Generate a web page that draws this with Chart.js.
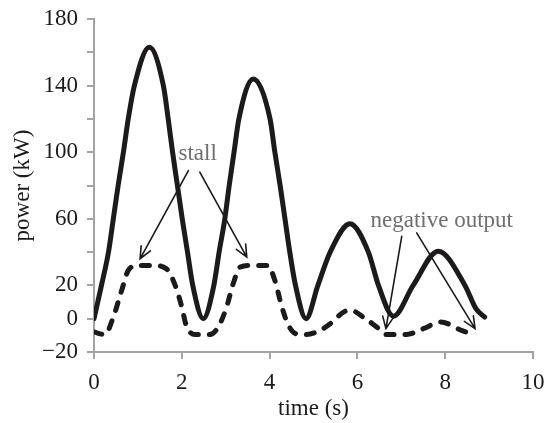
<!DOCTYPE html>
<html>
<head>
<meta charset="utf-8">
<script src="https://cdn.jsdelivr.net/npm/chart.js@4"></script>
<style>
  html, body { margin: 0; padding: 0; background: #fff; }
  #wrap { width: 547px; height: 423px; }
</style>
</head>
<body>
<div id="wrap"><canvas id="myChart" width="547" height="423"></canvas></div>
<script>
"use strict";

const ctx = document.getElementById("myChart");

const ink = "#1c1a1a";
const axisGrey = "#a3a3a3";
const noteGrey = "#6e6e6e";
const serif = "'Liberation Serif', 'Times New Roman', serif";

// solid curve: total power
const solidTime = [0, 0.17, 0.33, 0.44, 0.55, 0.67, 0.78, 0.92, 1.26, 1.58, 1.69, 1.79, 1.9, 2.01, 2.13, 2.25, 2.49,
  2.73, 2.85, 2.98, 3.08, 3.19, 3.3, 3.63, 4.01, 4.12, 4.24, 4.35, 4.46, 4.59, 4.83,
  5.1, 5.38, 5.83, 6.25, 6.48, 6.82,
  7.27, 7.84, 8.45, 8.7, 8.9];
const solidPower = [0, 20, 40, 60, 80, 100, 120, 140, 163, 140, 120, 100, 80, 60, 40, 20, 0,
  20, 40, 60, 80, 100, 120, 144, 120, 100, 80, 60, 40, 20, 0,
  20, 40, 57, 40, 20, 1.5,
  20, 40.5, 20, 6, 1];

// dashed curve: power with stall / negative output
const dashTime = [0, 0.25, 0.44, 0.63, 0.78, 1.0, 1.35, 1.65, 1.85, 2.0, 2.1, 2.3, 2.64, 2.83, 3.02, 3.17, 3.33,
  3.6, 3.96, 4.12, 4.28, 4.43, 4.6, 4.84, 5.15, 5.38, 5.72, 5.85, 6.13, 6.44, 6.65, 7.12, 7.5, 7.9, 8.37, 8.65];
const dashPower = [-8, -9.5, 1, 17, 29, 32, 32, 30, 20, 7, -4, -9.5, -9.5, -5, 7, 21, 31,
  32, 32, 23, 7, -4, -9, -9.5, -7, -3, 4.5, 5, 1, -5, -9.5, -9.5, -6, -2, -7, -9.5];

const xTicks = [0, 2, 4, 6, 8, 10];
const yLabelled = [-20, 0, 20, 60, 100, 140, 180];

// notes, in data units
const notes = [
  { text: "stall", x: 2.36, y: 99 },
  { text: "negative output", x: 7.92, y: 59 },
];
const arrows = [
  { from: [2.15, 89], to: [1.05, 36] },
  { from: [2.41, 88], to: [3.48, 37] },
  { from: [7.01, 49.5], to: [6.65, -6] },
  { from: [7.35, 51.5], to: [8.68, -6] },
];

const toPoints = (xs, ys) => xs.map((x, i) => ({ x: x, y: ys[i] }));

const notesPlugin = {
  id: "notes",
  afterDatasetsDraw(chart) {
    const c = chart.ctx;
    const sx = chart.scales.x;
    const sy = chart.scales.y;
    c.save();
    c.strokeStyle = ink;
    c.lineWidth = 1.6;
    c.lineCap = "round";
    arrows.forEach((a) => {
      const x1 = sx.getPixelForValue(a.from[0]);
      const y1 = sy.getPixelForValue(a.from[1]);
      const x2 = sx.getPixelForValue(a.to[0]);
      const y2 = sy.getPixelForValue(a.to[1]);
      const ang = Math.atan2(y2 - y1, x2 - x1);
      const head = 13;
      const spread = 0.42;
      c.beginPath();
      c.moveTo(x1, y1);
      c.lineTo(x2, y2);
      c.moveTo(x2 - head * Math.cos(ang - spread), y2 - head * Math.sin(ang - spread));
      c.lineTo(x2, y2);
      c.lineTo(x2 - head * Math.cos(ang + spread), y2 - head * Math.sin(ang + spread));
      c.stroke();
    });
    c.fillStyle = noteGrey;
    c.font = "23px " + serif;
    c.textAlign = "center";
    c.textBaseline = "middle";
    notes.forEach((n) => {
      c.fillText(n.text, sx.getPixelForValue(n.x), sy.getPixelForValue(n.y));
    });
    c.restore();
  },
};

const config = {
  type: "line",
  data: {
    datasets: [
      {
        label: "power",
        data: toPoints(solidTime, solidPower),
        borderColor: ink,
        borderWidth: 5,
        pointRadius: 0,
        cubicInterpolationMode: "monotone",
        borderCapStyle: "round",
        borderJoinStyle: "round",
      },
      {
        label: "power (stall)",
        data: toPoints(dashTime, dashPower),
        borderColor: ink,
        borderWidth: 5,
        borderDash: [8, 11],
        pointRadius: 0,
        cubicInterpolationMode: "monotone",
        borderCapStyle: "round",
        borderJoinStyle: "round",
      },
    ],
  },
  options: {
    responsive: false,
    animation: false,
    layout: {
      padding: { top: 19, right: 14, left: 0, bottom: 0 },
    },
    scales: {
      x: {
        type: "linear",
        min: 0,
        max: 10,
        afterBuildTicks: (scale) => {
          scale.ticks = xTicks.map((v) => ({ value: v }));
        },
        afterFit: (scale) => {
          scale.height = 71;
          scale.paddingLeft = 0;
          scale.paddingRight = 0;
        },
        border: { color: axisGrey, width: 2 },
        grid: {
          drawOnChartArea: false,
          color: axisGrey,
          lineWidth: 2,
          tickLength: 7,
        },
        ticks: {
          color: ink,
          padding: 10,
          maxRotation: 0,
          font: { family: serif, size: 23 },
        },
        title: {
          display: true,
          text: "time (s)",
          color: ink,
          padding: { top: 0, bottom: 0 },
          font: { family: serif, size: 23 },
        },
      },
      y: {
        min: -20,
        max: 180,
        afterBuildTicks: (scale) => {
          const t = [];
          for (let v = -20; v <= 180; v += 20) t.push({ value: v });
          scale.ticks = t;
        },
        afterFit: (scale) => {
          scale.width = 94;
          scale.paddingTop = 0;
          scale.paddingBottom = 0;
        },
        border: { color: axisGrey, width: 2 },
        grid: {
          drawOnChartArea: false,
          color: axisGrey,
          lineWidth: 2,
          tickLength: 7,
        },
        ticks: {
          color: ink,
          padding: 9,
          font: { family: serif, size: 23 },
          callback: (v) => {
            if (!yLabelled.includes(v)) return "";
            return v < 0 ? "\u2212" + Math.abs(v) : String(v);
          },
        },
        title: {
          display: true,
          text: "power (kW)",
          color: ink,
          padding: { top: 9, bottom: 0 },
          font: { family: serif, size: 23 },
        },
      },
    },
    plugins: {
      legend: { display: false },
      tooltip: { enabled: false },
    },
  },
  plugins: [notesPlugin],
};

new Chart(ctx, config);
</script>
</body>
</html>
